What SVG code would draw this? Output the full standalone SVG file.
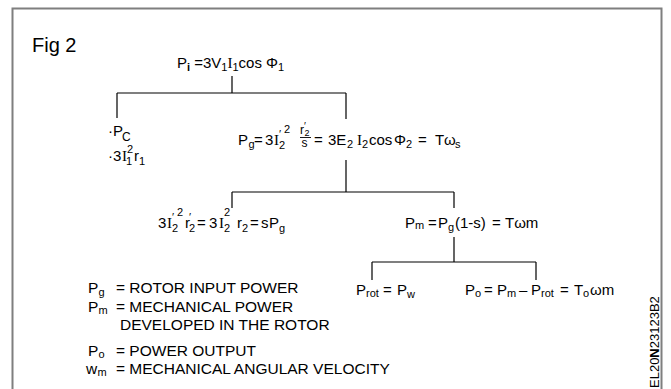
<svg xmlns="http://www.w3.org/2000/svg" width="671" height="389" viewBox="0 0 671 389">
<style>
text{font-family:"Liberation Sans",Arial,sans-serif;font-size:15px;fill:#000}
.s{font-size:11px}
.f{font-size:12px}
.serif{font-family:"Liberation Serif","Times New Roman",serif}
.lg{font-size:15.5px}
.ln{stroke:#000;stroke-width:1.2;fill:none}
</style>
<rect x="12.5" y="8.5" width="649" height="400" fill="#fff" stroke="#7f7f7f" stroke-width="2"/>
<text x="32" y="52" style="font-size:20px">Fig 2</text>
<g id="connectors">
<path class="ln" d="M232 76V93M117 93H346M117 93V118M346 93V119"/>
<path class="ln" d="M346 160V192M232 192H454M232 192V208M454 192V208"/>
<path class="ln" d="M454 237V262M372 262H536M372 262V280M536 262V280"/>
</g>
<g id="n-pi"><text x="177" y="68">P<tspan class="s" dy="3" font-weight="bold">i</tspan><tspan dy="-3"> =3V</tspan><tspan class="s" dy="3">1</tspan><tspan class="serif" dy="-3">I</tspan><tspan class="s" dy="3">1</tspan><tspan dy="-3">cos Φ</tspan><tspan class="s" dy="3">1</tspan></text></g>
<g id="n-pc">
<text x="108" y="136">·P<tspan class="f" x="122" y="141">C</tspan></text>
<text x="108" y="161">·3<tspan class="serif" x="122">I</tspan><tspan class="s" x="126" y="165">1</tspan><tspan class="s" x="127" y="153">2</tspan><tspan x="134" y="161">r</tspan><tspan class="s" x="139" y="165">1</tspan></text>
</g>
<g id="n-pg">
<text x="238" y="145">P<tspan class="s" x="248.5" y="148">g</tspan><tspan x="254" y="145">=</tspan><tspan x="265">3</tspan><tspan class="serif" x="274">I</tspan><tspan class="s" x="279" y="138">′</tspan><tspan class="s" x="279" y="149">2</tspan><tspan class="s" x="284" y="133">2</tspan></text>
<text class="f" x="300" y="134">r<tspan style="font-size:10px" x="304" y="130">′</tspan><tspan style="font-size:9px" x="304.5" y="136">2</tspan><tspan x="301.5" y="147">s</tspan></text>
<line x1="300" y1="137.5" x2="311" y2="137.5" stroke="#000" stroke-width="0.9"/>
<text x="314" y="145">=<tspan x="328">3E</tspan><tspan class="s" x="347" y="148">2</tspan><tspan class="serif" x="357" y="145">I</tspan><tspan class="s" x="362" y="148">2</tspan><tspan x="369" y="145">cos</tspan><tspan x="394">Φ</tspan><tspan class="s" x="406" y="148">2</tspan><tspan x="418" y="145">=</tspan><tspan x="435">T</tspan><tspan x="444">ω</tspan><tspan class="s" x="455" y="148">s</tspan></text>
</g>
<g id="n-loss"><text x="158" y="228">3<tspan class="serif" x="167">I</tspan><tspan class="s" x="172" y="221">′</tspan><tspan class="s" x="172" y="232">2</tspan><tspan class="s" x="177" y="216">2</tspan><tspan x="185" y="228">r</tspan><tspan class="s" x="189" y="221">′</tspan><tspan class="s" x="189" y="232">2</tspan><tspan x="197" y="228">=</tspan><tspan x="209">3</tspan><tspan class="serif" x="219">I</tspan><tspan class="s" x="224" y="232">2</tspan><tspan class="s" x="224" y="216">2</tspan><tspan x="237" y="228">r</tspan><tspan class="s" x="242" y="232">2</tspan><tspan x="250" y="228">=</tspan><tspan x="261">s</tspan><tspan x="269">P</tspan><tspan class="s" x="279" y="232">g</tspan></text></g>
<g id="n-pm"><text x="405" y="228">P<tspan class="s" x="415" y="229">m</tspan><tspan x="428" y="228">=</tspan><tspan x="438">P</tspan><tspan class="s" x="448" y="231">g</tspan><tspan x="455" y="228">(1-s)</tspan><tspan x="492">=</tspan><tspan x="505">Tωm</tspan></text></g>
<g id="n-prot"><text x="356" y="295">P<tspan class="s" x="366" y="297">rot</tspan><tspan x="383" y="295">=</tspan><tspan x="397">P</tspan><tspan class="s" x="407" y="298">w</tspan></text></g>
<g id="n-po"><text x="465" y="295">P<tspan class="s" x="475" y="297">o</tspan><tspan x="484" y="295">=</tspan><tspan x="497">P</tspan><tspan class="s" x="507" y="297">m</tspan><tspan x="519" y="295">–</tspan><tspan x="531">P</tspan><tspan class="s" x="541" y="297">rot</tspan><tspan x="560" y="295">=</tspan><tspan x="574">T</tspan><tspan class="s" x="583" y="297">o</tspan><tspan x="590" y="295">ωm</tspan></text></g>
<g id="legend">
<text class="lg" x="88" y="293">P<tspan class="s" x="98.5" y="296">g</tspan><tspan x="116" y="293">= ROTOR INPUT POWER</tspan></text>
<text class="lg" x="88" y="312">P<tspan class="s" x="98.5" y="314">m</tspan><tspan x="116" y="312">= MECHANICAL POWER</tspan></text>
<text class="lg" x="120" y="330">DEVELOPED IN THE ROTOR</text>
<text class="lg" x="88" y="356">P<tspan class="s" x="98.5" y="358">o</tspan><tspan x="116" y="356">= POWER OUTPUT</tspan></text>
<text class="lg" x="86" y="374">w<tspan class="s" x="97.5" y="376">m</tspan><tspan x="116" y="374">= MECHANICAL ANGULAR VELOCITY</tspan></text>
</g>
<text transform="translate(659 388) rotate(-90)" style="font-size:13px">EL20<tspan font-weight="bold">N</tspan>23123B2</text>
</svg>
